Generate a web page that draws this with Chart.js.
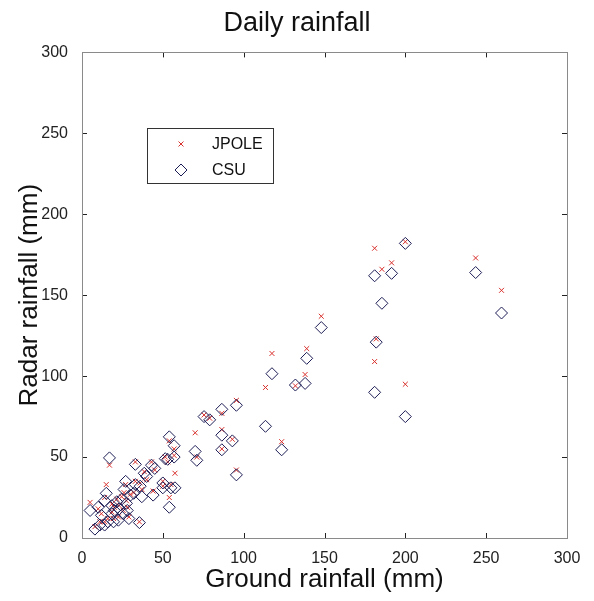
<!DOCTYPE html>
<html>
<head>
<meta charset="utf-8">
<script src="https://cdn.jsdelivr.net/npm/chart.js@4.4.1/dist/chart.umd.min.js"></script>
<style>
  html, body { margin: 0; padding: 0; background: #fff; }
  #wrap { width: 594px; height: 601px; }
</style>
</head>
<body>
<div id="wrap"><canvas id="rainChart" width="594" height="601"></canvas></div>
<script>
// ground gauge totals and the two radar estimates (mm)
var ground = [200, 181, 185.5, 191.5, 243.5, 259.5, 182, 181, 200, 148,
              117.5, 113.5, 139, 138, 132, 123.5, 95.5, 86.5, 75.5, 79,
              86.5, 93, 86.5, 70, 71, 95.5, 54, 57, 51.5, 57.5,
              53, 17, 33, 43, 38.5, 27, 32, 37, 44, 50,
              50, 54, 35.5, 5, 8, 14, 19.5, 12, 10, 15,
              21.5, 25.5, 22.5, 27.5, 30, 18.5, 18.5, 24.5, 57, 16,
              20, 23, 26, 28, 40, 45, 14, 11, 29, 33, 36, 55];
var jpole = [183, 179, 166, 170, 173, 153, 123, 109, 95, 137,
             114, 93, 117, 101, 94, 59.5, 85, 77, 76, 74,
             67, 61, 55, 65, 50, 42, 60, 55, 50, 40,
             47, 45, 47, 47, 41, 33, 28, 30, 29, 35,
             32, 25, 10, 22, 7, 10, 12, 15, 18, 33,
             24, 17, 13, 23, 27, 16, 21, 25.5, 51, 12,
             19, 20, 28, 19, 36, 42, 25, 10, 13, 35, 34, 33];
var csu = [182, 162, 145, 163.5, 164, 139, 121, 90, 75, 130,
           101.5, 69, 111, 95.5, 94.5, 54.5, 82, 79.5, 75, 73,
           63.5, 60, 54.5, 53.5, 48, 39, 62.5, 57, 49, 31,
           48.6, 49.5, 45.5, 45, 40, 35, 27.6, 25.5, 26.5, 34,
           31, 19, 9.5, 17, 5.5, 8, 10, 14, 19, 27.6,
           22.4, 15, 11, 21.4, 26.5, 15, 20, 24, 50, 10,
           17, 18, 30, 17, 38, 43, 23, 8, 12, 33, 32, 31];
var tickVals = [0, 50, 100, 150, 200, 250, 300];

function pairs(ys) {
    return ground.map(function (g, i) { return { x: g, y: ys[i] }; });
}

var fontFam = '"Liberation Sans", Arial, Helvetica, sans-serif';

// MATLAB-style box with inward ticks on all four sides
var boxPlugin = {
    id: 'boxPlugin',
    afterDatasetsDraw: function (chart) {
        var ctx = chart.ctx, a = chart.chartArea;
        var xs = chart.scales.x, ys = chart.scales.y;
        ctx.save();
        ctx.strokeStyle = '#222';
        ctx.lineWidth = 1;
        ctx.beginPath();
        tickVals.forEach(function (v) {
            var px = Math.round(xs.getPixelForValue(v)) + 0.5;
            ctx.moveTo(px, a.bottom); ctx.lineTo(px, a.bottom - 5);
            ctx.moveTo(px, a.top); ctx.lineTo(px, a.top + 5);
            var py = Math.round(ys.getPixelForValue(v)) + 0.5;
            ctx.moveTo(a.left, py); ctx.lineTo(a.left + 5, py);
            ctx.moveTo(a.right, py); ctx.lineTo(a.right - 5, py);
        });
        ctx.stroke();
        ctx.strokeStyle = '#8a8a8a';
        ctx.strokeRect(Math.round(a.left) + 0.5, Math.round(a.top) + 0.5,
                       Math.round(a.right - a.left), Math.round(a.bottom - a.top));
        ctx.restore();
    }
};

// legend box inside the plot, upper left
var legendPlugin = {
    id: 'legendPlugin',
    afterDraw: function (chart) {
        var ctx = chart.ctx;
        var x0 = 147, y0 = 128, w = 126, h = 55;
        ctx.save();
        ctx.fillStyle = '#fff';
        ctx.fillRect(x0, y0, w, h);
        ctx.strokeStyle = '#333';
        ctx.lineWidth = 1;
        ctx.strokeRect(x0 + 0.5, y0 + 0.5, w, h);
        ctx.font = '16px ' + fontFam;
        ctx.textBaseline = 'middle';
        chart.data.datasets.forEach(function (ds, i) {
            var cy = y0 + 16 + i * 26;
            ctx.strokeStyle = ds.borderColor;
            ctx.fillStyle = 'rgba(0,0,0,0)';
            ctx.lineWidth = ds.borderWidth;
            Chart.helpers.drawPoint(ctx, {
                pointStyle: ds.pointStyle, radius: ds.pointRadius,
                borderWidth: ds.borderWidth, rotation: 0
            }, 181, cy);
            ctx.fillStyle = '#111';
            ctx.fillText(ds.label, 212, cy + 1);
        });
        ctx.restore();
    }
};

var ctx = document.getElementById('rainChart').getContext('2d');
var myChart = new Chart(ctx, {
    type: 'scatter',
    data: {
        datasets: [{
            label: 'JPOLE',
            data: pairs(jpole),
            pointStyle: 'crossRot',
            pointRadius: 3.5,
            borderWidth: 1,
            borderColor: '#d8302c',
            backgroundColor: '#d8302c',
            order: 1
        }, {
            label: 'CSU',
            data: pairs(csu),
            pointStyle: 'rectRot',
            pointRadius: 6,
            borderWidth: 1,
            borderColor: '#1c1c55',
            backgroundColor: 'rgba(0,0,0,0)',
            order: 0
        }]
    },
    options: {
        responsive: false,
        animation: false,
        layout: { padding: 0 },
        plugins: {
            legend: { display: false },
            tooltip: { enabled: false },
            title: {
                display: true,
                text: 'Daily rainfall',
                color: '#111',
                font: { size: 27, family: fontFam, weight: 'normal' },
                padding: { top: 7, bottom: 13 }
            }
        },
        scales: {
            x: {
                type: 'linear',
                min: 0, max: 300,
                grid: { display: false },
                border: { display: false },
                ticks: { stepSize: 50, padding: 3, color: '#222',
                         font: { size: 16, family: fontFam } },
                title: {
                    display: true,
                    text: 'Ground rainfall (mm)',
                    color: '#111',
                    font: { size: 26, family: fontFam },
                    padding: { top: 2, bottom: 6 }
                },
                afterFit: function (s) { s.height = 63; }
            },
            y: {
                type: 'linear',
                min: 0, max: 300,
                grid: { display: false },
                border: { display: false },
                ticks: { stepSize: 50, padding: 6, color: '#222',
                         font: { size: 16, family: fontFam } },
                title: {
                    display: true,
                    text: 'Radar rainfall (mm)',
                    color: '#111',
                    font: { size: 26, family: fontFam },
                    padding: { top: 14, bottom: 4 }
                },
                afterFit: function (s) { s.width = 82; }
            },
            // empty right-hand strip so the plot ends where the reference does
            yRight: {
                type: 'linear',
                position: 'right',
                min: 0, max: 300,
                grid: { display: false },
                border: { display: false },
                ticks: { display: false },
                afterFit: function (s) { s.width = 27; }
            }
        }
    },
    plugins: [boxPlugin, legendPlugin]
});
</script>
</body>
</html>
